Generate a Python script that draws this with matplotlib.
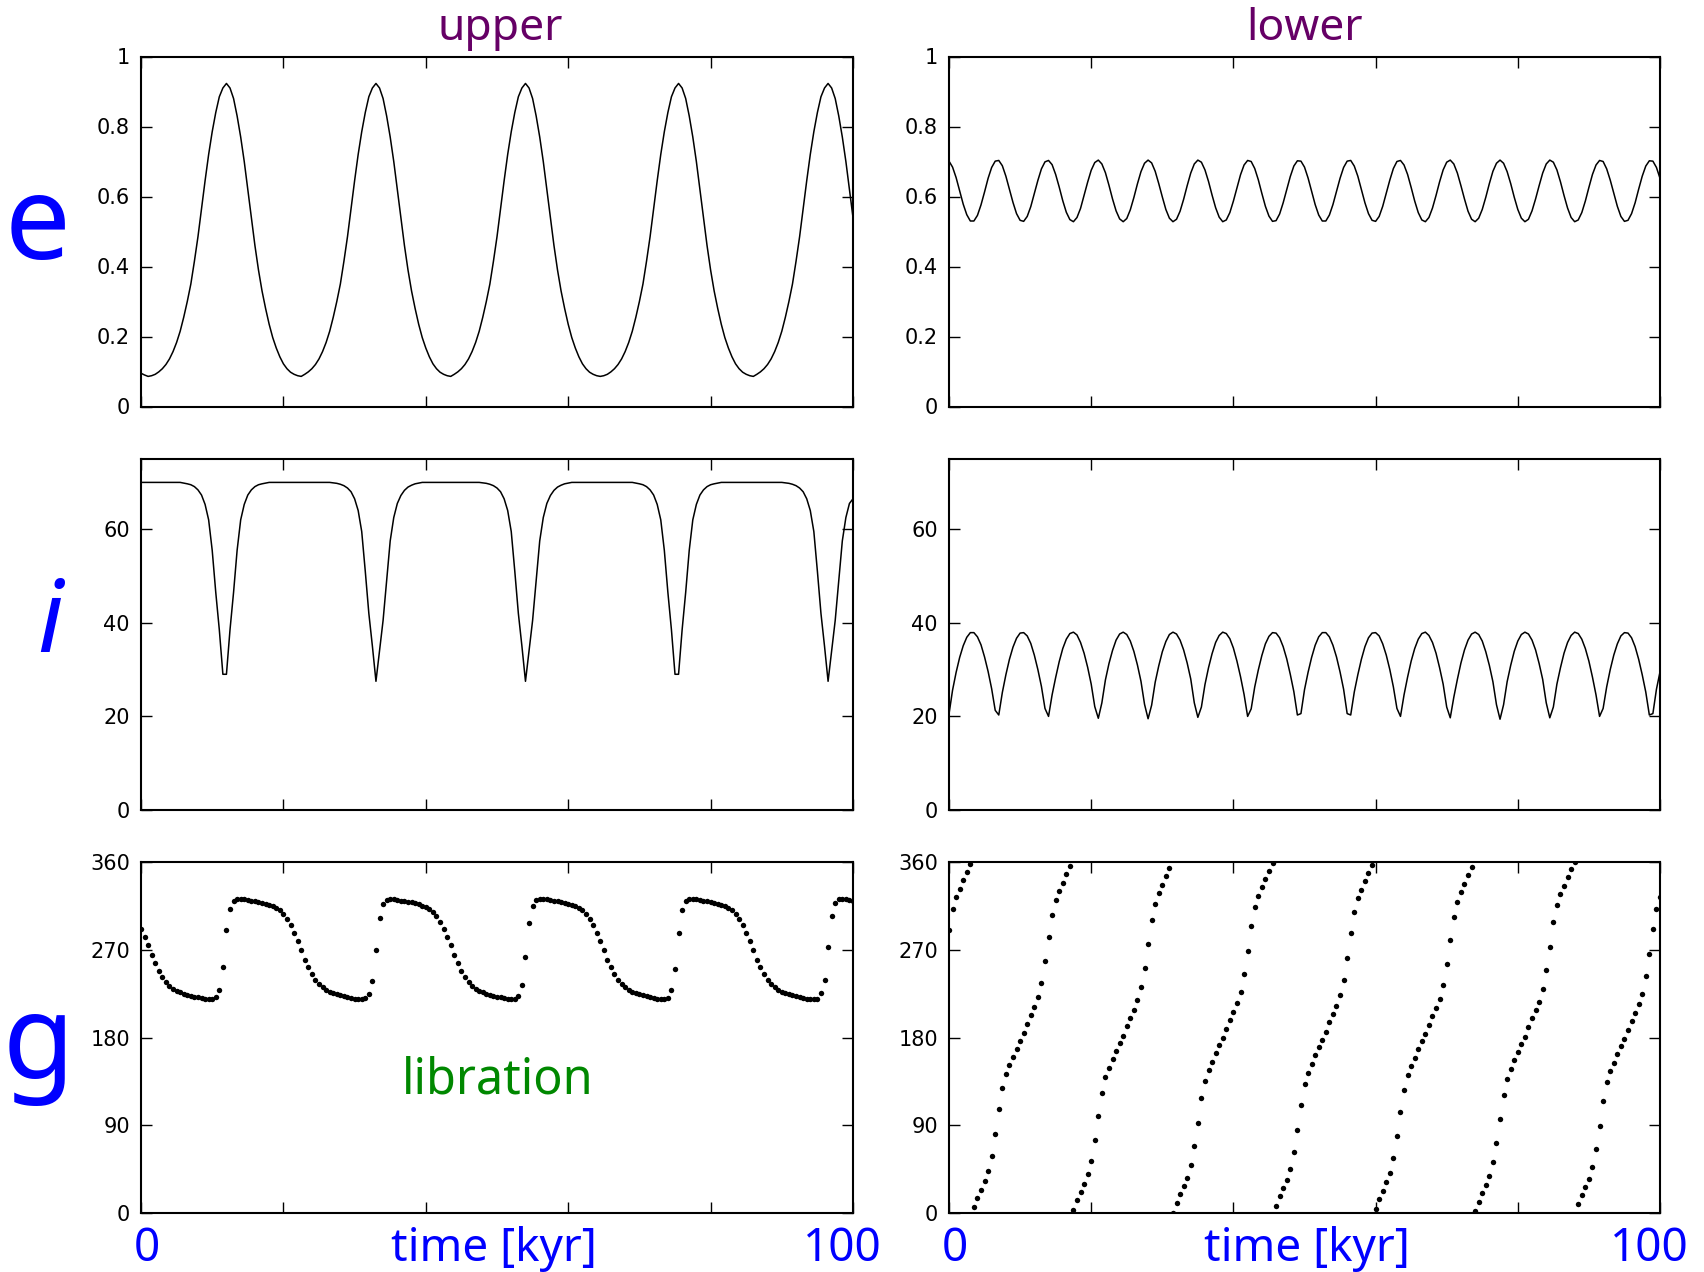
import numpy as np
import matplotlib
matplotlib.use("Agg")
import matplotlib.pyplot as plt

# sampling step of the integration output [kyr]
dt = 0.5

# ---- upper planet ----
e_upper = [
    .095, .090, .086, .088, .092, .099, .108, .120, .136, .157,
    .183, .215, .255, .300, .350, .415, .485, .565, .645, .720,
    .785, .840, .885, .910, .923, .910, .880, .830, .770, .700,
    .620, .540, .460, .390, .330, .280, .235, .197, .167, .142,
    .122, .108, .098, .092, .088, .086, .092, .099, .108, .120,
    .136, .157, .183, .215, .255, .300, .350, .415, .485, .565,
    .645, .720, .785, .840, .885, .910, .923, .910, .880, .830,
    .770, .700, .620, .540, .460, .390, .330, .280, .235, .197,
    .167, .142, .122, .108, .098, .092, .088, .086, .092, .099,
    .108, .120, .136, .157, .183, .215, .255, .300, .350, .415,
    .485, .565, .645, .720, .785, .840, .885, .910, .923, .910,
    .880, .830, .770, .700, .620, .540, .460, .390, .330, .280,
    .235, .197, .167, .142, .122, .108, .098, .092, .088, .086,
    .088, .092, .099, .108, .120, .136, .157, .183, .215, .255,
    .300, .350, .415, .485, .565, .645, .720, .785, .840, .885,
    .910, .923, .910, .880, .830, .770, .700, .620, .540, .460,
    .390, .330, .280, .235, .197, .167, .142, .122, .108, .098,
    .092, .088, .086, .092, .099, .108, .120, .136, .157, .183,
    .215, .255, .300, .350, .415, .485, .565, .645, .720, .785,
    .840, .885, .910, .923, .910, .880, .830, .770, .700, .620,
    .540,
]

i_upper = [
    70, 70, 70, 70, 70, 70, 70, 70, 70, 70,
    70, 70, 69.85, 69.7, 69.5, 69.1, 68.4, 67.3, 65.3, 62,
    55.5, 46.5, 38.5, 29, 29, 38.5, 46.5, 55.5, 62, 65.3,
    67.3, 68.4, 69.1, 69.5, 69.7, 69.85, 70, 70, 70, 70,
    70, 70, 70, 70, 70, 70, 70, 70, 70, 70,
    70, 70, 70, 70, 69.9, 69.8, 69.6, 69.3, 68.8, 68,
    66.5, 64, 59.5, 51, 42, 35, 27.5, 34, 40.5, 49,
    57.5, 62.5, 65.5, 67.2, 68.3, 69.0, 69.4, 69.7, 69.85, 70,
    70, 70, 70, 70, 70, 70, 70, 70, 70, 70,
    70, 70, 70, 70, 70, 70, 69.9, 69.8, 69.6, 69.3,
    68.8, 68, 66.5, 64, 59.5, 51, 42, 35, 27.5, 34,
    40.5, 49, 57.5, 62.5, 65.5, 67.2, 68.3, 69.0, 69.4, 69.7,
    69.85, 70, 70, 70, 70, 70, 70, 70, 70, 70,
    70, 70, 70, 70, 70, 70, 70, 70, 70, 69.85,
    69.7, 69.5, 69.1, 68.4, 67.3, 65.3, 62, 55.5, 46.5, 38.5,
    29, 29, 38.5, 46.5, 55.5, 62, 65.3, 67.3, 68.4, 69.1,
    69.5, 69.7, 69.85, 70, 70, 70, 70, 70, 70, 70,
    70, 70, 70, 70, 70, 70, 70, 70, 70, 70,
    70, 69.9, 69.8, 69.6, 69.3, 68.8, 68, 66.5, 64, 59.5,
    51, 42, 35, 27.5, 34, 40.5, 49, 57.5, 62.5, 65.5,
    66.5,
]

g_upper = [
    291, 283, 274.5, 265, 256, 248.5, 242, 236.75, 233, 230.25,
    228, 226.25, 225, 224, 223, 222, 221.25, 220.5, 219.75, 219.25,
    219, 221.5, 229, 252, 290, 312, 320, 322.5, 322.5, 322,
    321, 320, 319.5, 319, 318, 317, 316, 314.5, 313, 310.5,
    307, 302, 295, 287, 279, 270, 260, 252, 245, 239,
    234.5, 231.5, 229, 227, 225.5, 224.5, 223.5, 222.5, 221.5, 221,
    220, 219.5, 219, 221, 225, 238, 270, 303, 317, 321.5,
    322.5, 322.25, 321.5, 320.5, 319.75, 319.25, 318.5, 317.5, 316.5, 315.25,
    313.75, 311.75, 308.75, 304.5, 298.5, 291, 283, 274.5, 265, 256,
    248.5, 242, 236.75, 233, 230.25, 228, 226.25, 225, 224, 223,
    222, 221.25, 220.5, 219.75, 219.25, 219, 223, 234, 263, 297,
    315, 321.5, 322.5, 322.5, 322, 321, 320, 319.5, 319, 318,
    317, 316, 314.5, 313, 310.5, 307, 302, 295, 287, 279,
    270, 260, 252, 245, 239, 234.5, 231.5, 229, 227, 225.5,
    224.5, 223.5, 222.5, 221.5, 221, 220, 219.5, 219, 221, 229,
    250, 287, 311, 320, 322.5, 322.5, 322, 321, 320, 319.5,
    319, 318, 317, 316, 314.5, 313, 310.5, 307, 302, 295,
    287, 279, 270, 260, 252, 245, 239, 234.5, 231.5, 229,
    227, 225.5, 224.5, 223.5, 222.5, 221.5, 221, 220, 219.5, 219,
    220, 225.6, 239, 273, 305, 318, 322, 322.5, 322.25, 321.5,
    320.5,
]

# ---- lower planet ----
e_lower = [
    0.701, 0.684, 0.654, 0.616, 0.578, 0.548, 0.530, 0.530, 0.546, 0.576, 0.613, 0.652, 0.683, 0.701,
    0.703, 0.688, 0.658, 0.621, 0.583, 0.551, 0.532, 0.529, 0.543, 0.571, 0.608, 0.646, 0.679, 0.699,
    0.703, 0.691, 0.663, 0.627, 0.588, 0.555, 0.534, 0.528, 0.540, 0.566, 0.603, 0.641, 0.675, 0.697,
    0.704, 0.693, 0.668, 0.632, 0.593, 0.559, 0.536, 0.528, 0.537, 0.562, 0.597, 0.636, 0.671, 0.695,
    0.704, 0.696, 0.672, 0.637, 0.599, 0.563, 0.538, 0.528, 0.535, 0.558, 0.592, 0.631, 0.667, 0.693,
    0.704, 0.698, 0.676, 0.643, 0.604, 0.568, 0.541, 0.528, 0.533, 0.554, 0.587, 0.625, 0.662, 0.690,
    0.703, 0.700, 0.680, 0.648, 0.609, 0.572, 0.544, 0.529, 0.531, 0.550, 0.582, 0.620, 0.657, 0.687,
    0.702, 0.701, 0.684, 0.653, 0.615, 0.577, 0.547, 0.530, 0.530, 0.547, 0.577, 0.614, 0.652, 0.683,
    0.701, 0.703, 0.687, 0.658, 0.620, 0.582, 0.551, 0.532, 0.529, 0.543, 0.572, 0.609, 0.647, 0.680,
    0.700, 0.703, 0.690, 0.663, 0.626, 0.587, 0.554, 0.533, 0.528, 0.540, 0.567, 0.603, 0.642, 0.676,
    0.698, 0.704, 0.693, 0.667, 0.631, 0.593, 0.558, 0.535, 0.528, 0.538, 0.563, 0.598, 0.637, 0.672,
    0.695, 0.704, 0.695, 0.671, 0.637, 0.598, 0.563, 0.538, 0.528, 0.535, 0.559, 0.593, 0.631, 0.667,
    0.693, 0.704, 0.698, 0.676, 0.642, 0.603, 0.567, 0.540, 0.528, 0.533, 0.554, 0.587, 0.626, 0.663,
    0.690, 0.703, 0.700, 0.679, 0.647, 0.609, 0.572, 0.543, 0.529, 0.532, 0.551, 0.582, 0.621, 0.658,
    0.687, 0.702, 0.701, 0.683, 0.652,
]

i_lower = [
    20.5, 25.6, 29.4, 32.6, 35.1, 36.9, 37.9, 37.9, 37.0, 35.3, 32.7, 29.6, 25.9, 21.3,
    20.3, 25.1, 28.9, 32.2, 34.8, 36.7, 37.8, 37.9, 37.2, 35.6, 33.1, 30.0, 26.4, 21.7,
    20.0, 24.6, 28.3, 31.7, 34.5, 36.5, 37.7, 38.0, 37.4, 35.8, 33.5, 30.5, 26.9, 22.1,
    19.6, 22.9, 27.8, 31.3, 34.1, 36.3, 37.6, 38.0, 37.5, 36.1, 33.9, 31.0, 27.5, 22.6,
    19.5, 22.4, 27.3, 30.8, 33.8, 36.0, 37.5, 38.0, 37.6, 36.3, 34.2, 31.4, 28.0, 22.9,
    19.8, 22.0, 26.8, 30.4, 33.4, 35.8, 37.3, 38.0, 37.7, 36.6, 34.6, 31.8, 28.5, 24.7,
    20.0, 21.6, 26.3, 29.9, 33.0, 35.5, 37.1, 37.9, 37.8, 36.8, 34.9, 32.3, 29.0, 25.3,
    20.3, 20.6, 25.7, 29.4, 32.6, 35.2, 37.0, 37.9, 37.9, 37.0, 35.2, 32.7, 29.5, 25.8,
    20.6, 20.3, 25.2, 28.9, 32.2, 34.9, 36.8, 37.8, 37.9, 37.2, 35.5, 33.1, 30.0, 26.3,
    21.7, 20.0, 24.6, 28.4, 31.8, 34.5, 36.5, 37.7, 38.0, 37.3, 35.8, 33.5, 30.4, 26.9,
    22.0, 19.7, 24.1, 27.9, 31.4, 34.2, 36.3, 37.6, 38.0, 37.5, 36.1, 33.8, 30.9, 27.4,
    22.5, 19.4, 22.5, 27.4, 30.9, 33.9, 36.1, 37.5, 38.0, 37.6, 36.3, 34.2, 31.3, 27.9,
    22.9, 19.7, 22.0, 26.9, 30.4, 33.5, 35.8, 37.3, 38.0, 37.7, 36.5, 34.5, 31.8, 28.4,
    24.6, 20.0, 21.7, 26.3, 30.0, 33.1, 35.5, 37.2, 37.9, 37.8, 36.8, 34.9, 32.2, 28.9,
    25.2, 20.3, 20.6, 25.8, 29.5,
]

g_lower = [
    290.5, 311.4, 323.7, 332.7, 341.5, 349.8, 357.7, 5.8, 15.5, 23.9,
    32.4, 42.9, 58.5, 81.5, 106.7, 128.7, 142.4, 151.5, 160.2, 168.7,
    176.8, 184.4, 194.2, 202.8, 211.2, 221.2, 236.2, 258.1, 283.0, 306.1,
    320.8, 330.3, 338.9, 347.6, 355.8, 2.9, 12.9, 21.6, 29.9, 39.6,
    53.8, 74.8, 99.2, 123.4, 139.0, 149.1, 157.8, 166.4, 174.6, 181.6,
    191.6, 200.5, 208.7, 218.0, 231.5, 251.6, 275.6, 300.7, 317.2, 327.9,
    336.5, 345.2, 353.5, 0.5, 10.2, 19.3, 27.6, 36.4, 49.1, 68.5,
    92.2, 118.1, 135.4, 146.5, 155.3, 164.0, 172.4, 179.6, 188.8, 198.2,
    206.5, 215.1, 226.7, 245.3, 268.8, 294.7, 313.7, 325.2, 334.0, 342.9,
    351.2, 358.6, 7.4, 17.0, 25.3, 33.8, 44.9, 62.1, 85.4, 111.1,
    131.8, 143.9, 152.8, 161.7, 170.0, 177.7, 186.0, 195.8, 204.1, 212.6,
    223.2, 238.9, 262.0, 287.3, 309.2, 322.6, 331.7, 340.4, 348.8, 356.9,
    4.6, 14.4, 22.9, 31.4, 41.5, 56.5, 78.7, 103.5, 126.5, 141.1,
    150.5, 159.1, 167.7, 176.0, 183.2, 193.0, 201.8, 210.1, 219.8, 234.2,
    255.4, 279.8, 303.8, 319.3, 329.3, 337.9, 346.6, 354.8, 1.7, 11.7,
    20.7, 28.9, 38.2, 51.9, 72.1, 96.0, 121.2, 137.5, 148.0, 156.7,
    165.4, 173.7, 180.5, 190.4, 199.5, 207.7, 216.6, 229.5, 248.9, 272.7,
    298.5, 315.7, 326.7, 335.5, 344.2, 352.5, 359.7, 9.1, 18.3, 26.6,
    35.3, 47.1, 65.7, 89.3, 115.3, 133.9, 145.4, 154.3, 163.1, 171.4,
    178.8, 187.6, 197.1, 205.5, 214.0, 225.1, 242.6, 265.9, 291.6, 312.2,
    324.1,
]

e_ticks = [0, 0.2, 0.4, 0.6, 0.8, 1]
e_labels = ["0", "0.2", "0.4", "0.6", "0.8", "1"]
i_ticks = [0, 20, 40, 60]
g_ticks = [0, 90, 180, 270, 360]

BLUE = "#0000ff"
PURPLE = "#660066"
GREEN = "#008800"
BIG = ["Noto Sans", "DejaVu Sans"]

W, H = 1704, 1272
fig = plt.figure(figsize=(W / 100, H / 100), dpi=100)


def box(x0, y0, x1, y1):
    return [x0 / W, 1 - y1 / H, (x1 - x0) / W, (y1 - y0) / H]


cols = [(141, 853), (949, 1660)]
rows = [(56.5, 406.5), (459, 810), (862, 1213)]


def style(ax, yticks, ylabels, ylim):
    ax.set_xlim(0, 100)
    ax.set_ylim(*ylim)
    ax.set_xticks([0, 20, 40, 60, 80, 100])
    ax.set_yticks(yticks)
    ax.set_yticklabels(ylabels, family="DejaVu Sans", fontsize=15)
    ax.tick_params(direction="in", top=True, right=True, length=7.7,
                   width=1.0, labelbottom=False, pad=8)
    for s in ax.spines.values():
        s.set_linewidth(1.5)


series = [
    (e_upper, e_lower, "line", e_ticks, e_labels, (0, 1)),
    (i_upper, i_lower, "line", i_ticks, [str(v) for v in i_ticks], (0, 75)),
    (g_upper, g_lower, "dots", g_ticks, [str(v) for v in g_ticks], (0, 360)),
]

for r, (left, right, kind, yt, yl, lim) in enumerate(series):
    for c, vals in enumerate([left, right]):
        ax = fig.add_axes(box(cols[c][0], rows[r][0], cols[c][1], rows[r][1]))
        t = dt * np.arange(len(vals))
        if kind == "line":
            ax.plot(t, vals, color="black", lw=1.1)
        else:
            ax.plot(t, vals, "o", color="black", ms=3.9, mec="none")
        style(ax, yt, yl, lim)

# column titles
fig.text(500 / W, 1 - 40 / H, "upper", color=PURPLE, fontsize=32,
         family=BIG, ha="center", va="baseline")
fig.text(1305 / W, 1 - 40 / H, "lower", color=PURPLE, fontsize=32,
         family=BIG, ha="center", va="baseline")

# row labels
fig.text(38 / W, 1 - 259 / H, "e", color=BLUE, fontsize=84,
         family=BIG, ha="center", va="baseline")
fig.text(50 / W, 1 - 652 / H, "i", color=BLUE, fontsize=72,
         family=BIG, style="italic", ha="center", va="baseline")
fig.text(38 / W, 1 - 1078 / H, "g", color=BLUE, fontsize=84,
         family=BIG, ha="center", va="baseline")

fig.text(498 / W, 1 - 1093 / H, "libration", color=GREEN, fontsize=35,
         family=BIG, ha="center", va="baseline")

# time axis labels
for x0, xm, x1 in [(147, 494, 842), (955, 1307, 1649)]:
    fig.text(x0 / W, 1 - 1261 / H, "0", color=BLUE, fontsize=33,
             family=BIG, ha="center", va="baseline")
    fig.text(xm / W, 1 - 1261 / H, "time [kyr]", color=BLUE, fontsize=33,
             family=BIG, ha="center", va="baseline")
    fig.text(x1 / W, 1 - 1261 / H, "100", color=BLUE, fontsize=33,
             family=BIG, ha="center", va="baseline")

fig.savefig("out.png", dpi=100)
